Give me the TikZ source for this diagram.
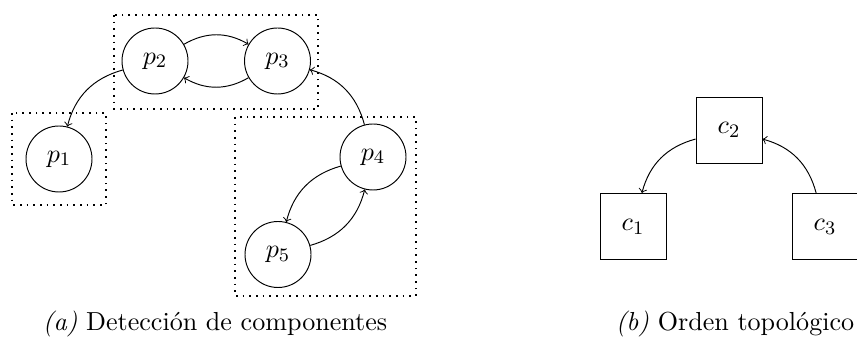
\documentclass[tikz,border=0pt]{standalone}
\usepackage{fontspec}
\begin{document}
\begin{tikzpicture}[x=0.42pt,y=-0.42pt,
  font=\fontsize{10.95}{13.6}\selectfont,
  proc/.style={circle,draw,minimum size=27.72pt,inner sep=0pt},
  comp/.style={rectangle,draw,minimum size=27.72pt,inner sep=0pt},
  group/.style={draw,line width=0.7pt,dash pattern=on 0.7pt off 2.1pt},
  link/.style={->}]
\useasboundingbox (0,0) rectangle (857,341);

% (a) process graph
\node[proc] (p1) at (59,159) {$p_1$};
\node[proc] (p2) at (155,61) {$p_2$};
\node[proc] (p3) at (277.5,61) {$p_3$};
\node[proc] (p4) at (373,157) {$p_4$};
\node[proc] (p5) at (278,254.5) {$p_5$};

% strongly connected components
\draw[group] (114,15) rectangle (318,109);
\draw[group] (12,113) rectangle (106,205);
\draw[group] (235,117) rectangle (416,296);

\draw[link] (p2) to[bend left=30] (p3);
\draw[link] (p3) to[bend left=30] (p2);
\draw[link] (p2) to[bend right=30] (p1);
\draw[link] (p4) to[bend right=30] (p3);
\draw[link] (p4) to[bend right=30] (p5);
\draw[link] (p5) to[bend right=30] (p4);

% (b) condensed graph
\node[comp] (c1) at (633,226.5) {$c_1$};
\node[comp] (c2) at (729,130) {$c_2$};
\node[comp] (c3) at (825,226.5) {$c_3$};

\draw[link] (c2) to[bend right=30] (c1);
\draw[link] (c3) to[bend right=30] (c2);

% captions
\node[anchor=base,inner sep=0pt] (capa) at (215,331) {\textit{(a)} Detección de componentes};
\node[anchor=base,inner sep=0pt] (capb) at (735,331) {\textit{(b)} Orden topológico};
\end{tikzpicture}
\end{document}
